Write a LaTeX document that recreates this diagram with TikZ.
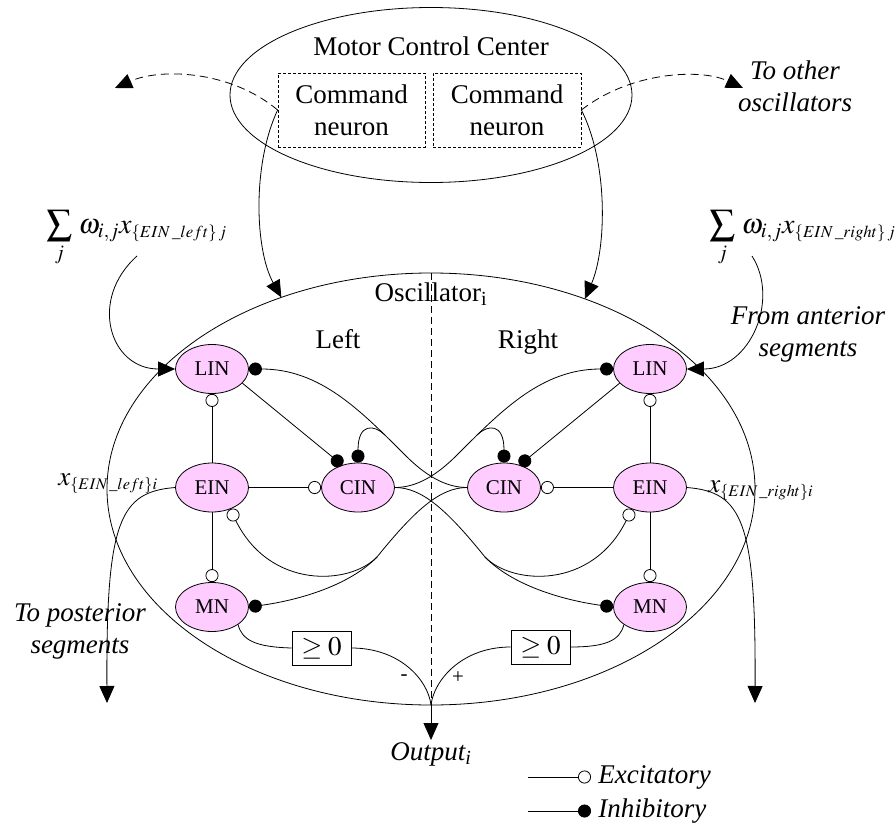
\documentclass[tikz,border=0pt]{standalone}
\usepackage{amsmath}
\usepackage{mathptmx}
\usepackage{fontspec}
\setmainfont{Liberation Serif}
\usepackage{tikz}
\usetikzlibrary{shapes.geometric, arrows.meta}
\definecolor{neuronpink}{HTML}{FFCCFF}
\newcommand{\lblsize}{\fontsize{27}{32}\selectfont}
\newcommand{\sumsize}{\fontsize{28}{33}\selectfont}
\newcommand{\nrnsize}{\fontsize{21}{24}\selectfont}
\newcommand{\bigsum}{\mathop{\vcenter{\hbox{\scalebox{1.3}{$\sum$}}}}\limits}

\begin{document}
\begin{tikzpicture}[x=1pt, y=1pt, line width=0.8pt,
        neuron/.style={draw, ellipse, fill=neuronpink, minimum width=73pt,
                       minimum height=49pt, inner sep=0pt, font=\nrnsize},
        cmdbox/.style={draw, densely dashed, minimum width=147pt, minimum height=74pt,
                       align=center, inner sep=0pt, font=\lblsize},
        gebox/.style={draw, minimum width=59pt, minimum height=34pt, inner sep=0pt, font=\lblsize},
        lbl/.style={inner sep=0pt, font=\lblsize},
        ital/.style={inner sep=0pt, font=\lblsize\itshape},
        exc/.style={-{Circle[open, length=13pt]}},
        inh/.style={-{Circle[length=13pt]}},
        flow/.style={-{Triangle[length=17pt, width=15pt]}},
        ctl/.style={flow, dash pattern=on 8pt off 5pt}
    ]
    \useasboundingbox (0,0) rectangle (895,-827);

    % motor control center
    \node[draw, ellipse, minimum width=402pt, minimum height=175pt, inner sep=0pt, outer sep=0pt] (mcc) at (431,-95) {};
    \node[lbl, anchor=base] (mcctitle) at (431,-55) {Motor Control Center};
    \node[cmdbox] (cmdL) at (351.5,-110) {Command\\neuron};
    \node[cmdbox, minimum width=148pt] (cmdR) at (507,-110) {Command\\neuron};
    \node[ital, align=center] (toother) at (795,-86) {To other\\oscillators};

    % oscillator
    \node[draw, ellipse, minimum width=648pt, minimum height=432pt, inner sep=0pt, outer sep=0pt] (osc) at (431,-489) {};
    \draw[dash pattern=on 7pt off 4pt] (osc.north) -- (osc.south);
    \node[lbl, anchor=base] (osctitle) at (431,-301) {Oscillator\textsubscript{i}};
    \node[lbl, anchor=base] (left) at (338,-348) {Left};
    \node[lbl, anchor=base] (right) at (528,-348) {Right};

    \node[neuron] (linL) at (212,-369) {LIN};
    \node[neuron] (einL) at (212,-487.5) {EIN};
    \node[neuron] (cinL) at (358,-487.5) {CIN};
    \node[neuron] (mnL) at (212,-607) {MN};
    \node[neuron] (linR) at (650,-369) {LIN};
    \node[neuron] (einR) at (650,-487.5) {EIN};
    \node[neuron] (cinR) at (504,-487.5) {CIN};
    \node[neuron] (mnR) at (650,-607) {MN};

    \node[gebox] (geL) at (321.5,-648) {$\geq 0$};
    \node[gebox] (geR) at (540.5,-647) {$\geq 0$};
    \node[inner sep=0pt, font=\nrnsize] (minus) at (404,-678) {-};
    \node[inner sep=0pt, font=\nrnsize] (plus) at (458,-678) {+};
    \node[ital, anchor=north, inner sep=2.5pt] (out) at (431,-740) {Output\textsubscript{i}};

    % inputs and outputs
    \node[inner sep=0pt, font=\sumsize, anchor=base west] (sumL) at (46,-233) {$\bigsum_j\, \omega_{i,j} x_{\scriptscriptstyle\{EIN\,\_left\}\,j}$};
    \node[inner sep=0pt, font=\sumsize, anchor=base west] (sumR) at (709,-233) {$\bigsum_j\, \omega_{i,j} x_{\scriptscriptstyle\{EIN\,\_right\}\,j}$};
    \node[lbl, anchor=base west] (xL) at (58,-485) {$x_{\scriptscriptstyle\{EIN\,\_left\}i}$};
    \node[lbl, anchor=base west] (xR) at (708,-492) {$x_{\scriptscriptstyle\{EIN\,\_right\}i}$};
    \node[ital, align=center] (anterior) at (808,-334) {From anterior\\segments};
    \node[ital, align=center] (posterior) at (80,-631) {To posterior\\segments};

    \coordinate (toL) at (115,-88);
    \coordinate (toR) at (743,-88);
    \coordinate (inL) at (137,-256);
    \coordinate (inR) at (752,-256);
    \coordinate (postL) at (107,-703);
    \coordinate (postR) at (755,-703);
    \coordinate (hL) at (385,-435);
    \coordinate (hR) at (477,-435);
    \coordinate (jL) at (377,-557);
    \coordinate (jR) at (485,-557);

    \draw[ctl] (cmdL.west) .. controls (230,-70) and (160,-68) .. (toL);
    \draw[ctl] (cmdR.east) .. controls (630,-72) and (700,-68) .. (toR);
    \draw[flow] (cmdL.west) .. controls (252,-165) and (255,-250) .. (osc.128.6);
    \draw[flow] (cmdR.east) .. controls (609,-165) and (606,-250) .. (osc.51.4);
    \draw[flow] (inL) .. controls (88,-300) and (110,-369) .. (linL.west);
    \draw[flow] (inR) .. controls (780,-300) and (750,-369) .. (linR.east);
    \draw[flow] (einL.west) .. controls (120,-492) and (106,-520) .. (postL);
    \draw[flow] (einR.east) .. controls (742,-492) and (756,-520) .. (postR);

    % synapses
    \draw[exc] (einL) -- (linL);
    \draw[exc] (einL) -- (mnL);
    \draw[exc] (einL) -- (cinL);
    \draw[inh] (linL.-25) -- (cinL.125);
    \draw[exc] (einR) -- (linR);
    \draw[exc] (einR) -- (mnR);
    \draw[exc] (einR) -- (cinR);
    \draw[inh] (linR.-155) -- (cinR.55);

    \draw[inh] (cinR.west) .. controls (445,-487.5) and (425,-475) .. (405,-455)
        .. controls (360,-410) and (320,-369) .. (linL.east);
    \draw[inh] (cinL.east) .. controls (417,-487.5) and (437,-475) .. (457,-455)
        .. controls (502,-410) and (542,-369) .. (linR.west);
    \draw[inh] (hL) .. controls (375,-425) and (358,-422) .. (cinL.north);
    \draw[inh] (hR) .. controls (487,-425) and (504,-422) .. (cinR.north);

    \draw[exc] (cinR.west) .. controls (440,-487.5) and (415,-510) .. (jL)
        .. controls (350,-585) and (270,-590) .. (einL.-50);
    \draw[inh] (jL) .. controls (350,-585) and (300,-600) .. (mnL.east);
    \draw[exc] (cinL.east) .. controls (422,-487.5) and (447,-510) .. (jR)
        .. controls (512,-585) and (592,-590) .. (einR.-130);
    \draw[inh] (jR) .. controls (512,-585) and (562,-600) .. (mnR.west);

    % motor output
    \draw (mnL.-34) .. controls (242,-640) and (255,-647) .. (geL.west);
    \draw (geL.east) .. controls (400,-648) and (428,-680) .. (osc.south);
    \draw (mnR.-146) .. controls (620,-640) and (607,-647) .. (geR.east);
    \draw (geR.west) .. controls (462,-647) and (434,-680) .. (osc.south);
    \draw[flow] (osc.south) -- (out.north);

    % legend
    \node[ital, anchor=west, inner xsep=7pt] (lgExc) at (591,-777) {Excitatory};
    \node[ital, anchor=west, inner xsep=7pt] (lgInh) at (591,-811) {Inhibitory};
    \coordinate (lgExc0) at (528,-777);
    \coordinate (lgInh0) at (528,-811);
    \draw[exc] (lgExc0) -- (lgExc.west);
    \draw[inh] (lgInh0) -- (lgInh.west);
\end{tikzpicture}
\end{document}
